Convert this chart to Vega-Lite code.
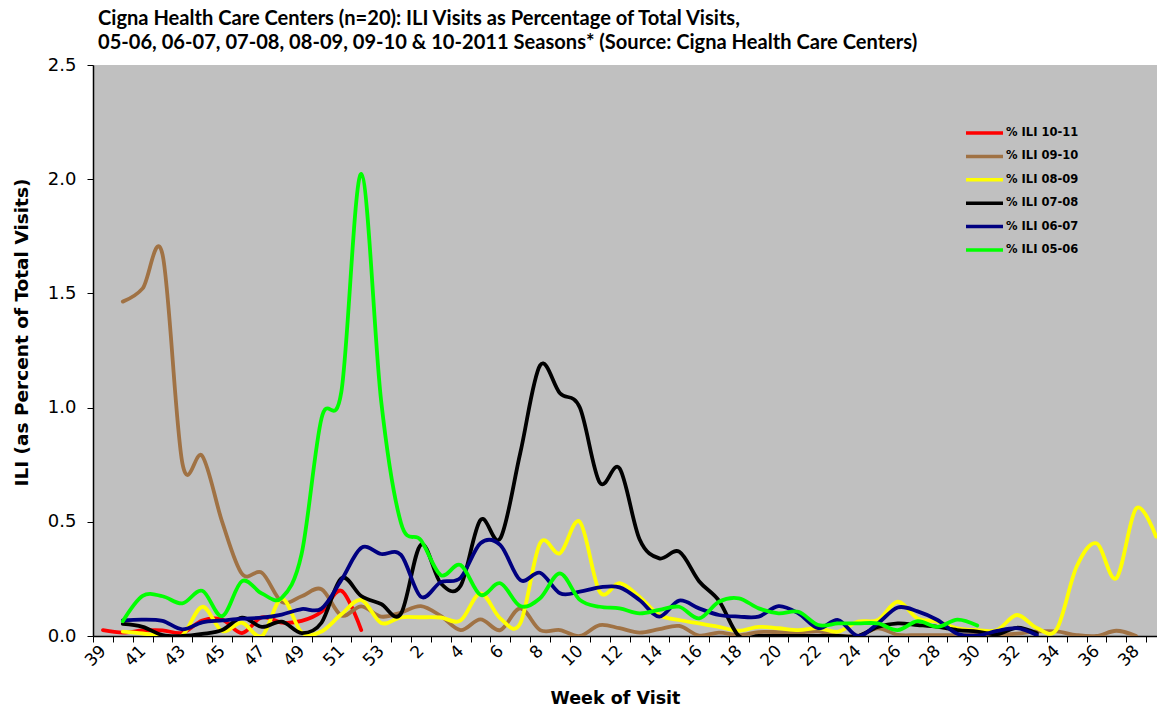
{
  "$schema": "https://vega.github.io/schema/vega-lite/v6.json",
  "autosize": {"type": "none"},
  "padding": {"left": 93, "top": 65, "right": 0, "bottom": 73},
  "width": 1064,
  "height": 571,
  "title": {
    "text": ["Cigna Health Care Centers (n=20): ILI Visits as Percentage of Total Visits,", "05-06, 06-07, 07-08, 08-09, 09-10 & 10-2011 Seasons* (Source: Cigna Health Care Centers)"],
    "font": "Lato",
    "fontSize": 20.1,
    "fontWeight": "bold",
    "color": "#000000",
    "anchor": "start",
    "frame": "group",
    "dx": 5,
    "lineHeight": 24,
    "offset": 3
  },
  "data": {"values": [
    {"week":"39","series":"% ILI 10-11","ili":0.026},{"week":"40","series":"% ILI 10-11","ili":0.015},{"week":"41","series":"% ILI 10-11","ili":0.024},{"week":"42","series":"% ILI 10-11","ili":0.025},{"week":"43","series":"% ILI 10-11","ili":0.014},{"week":"44","series":"% ILI 10-11","ili":0.068},{"week":"45","series":"% ILI 10-11","ili":0.072},{"week":"46","series":"% ILI 10-11","ili":0.013},{"week":"47","series":"% ILI 10-11","ili":0.082},{"week":"48","series":"% ILI 10-11","ili":0.059},{"week":"49","series":"% ILI 10-11","ili":0.066},{"week":"50","series":"% ILI 10-11","ili":0.106},{"week":"51","series":"% ILI 10-11","ili":0.198},{"week":"52","series":"% ILI 10-11","ili":0.026},

    {"week":"40","series":"% ILI 09-10","ili":1.464},{"week":"41","series":"% ILI 09-10","ili":1.522},{"week":"42","series":"% ILI 09-10","ili":1.67},{"week":"43","series":"% ILI 09-10","ili":0.756},{"week":"44","series":"% ILI 09-10","ili":0.788},{"week":"45","series":"% ILI 09-10","ili":0.5},{"week":"46","series":"% ILI 09-10","ili":0.272},{"week":"47","series":"% ILI 09-10","ili":0.277},{"week":"48","series":"% ILI 09-10","ili":0.15},{"week":"49","series":"% ILI 09-10","ili":0.174},{"week":"50","series":"% ILI 09-10","ili":0.205},{"week":"51","series":"% ILI 09-10","ili":0.09},{"week":"52","series":"% ILI 09-10","ili":0.13},{"week":"53","series":"% ILI 09-10","ili":0.085},{"week":"1","series":"% ILI 09-10","ili":0.103},{"week":"2","series":"% ILI 09-10","ili":0.131},{"week":"3","series":"% ILI 09-10","ili":0.088},{"week":"4","series":"% ILI 09-10","ili":0.026},{"week":"5","series":"% ILI 09-10","ili":0.073},{"week":"6","series":"% ILI 09-10","ili":0.026},{"week":"7","series":"% ILI 09-10","ili":0.121},{"week":"8","series":"% ILI 09-10","ili":0.026},{"week":"9","series":"% ILI 09-10","ili":0.026},{"week":"10","series":"% ILI 09-10","ili":0.0},{"week":"11","series":"% ILI 09-10","ili":0.048},{"week":"12","series":"% ILI 09-10","ili":0.034},{"week":"13","series":"% ILI 09-10","ili":0.015},{"week":"14","series":"% ILI 09-10","ili":0.03},{"week":"15","series":"% ILI 09-10","ili":0.044},{"week":"16","series":"% ILI 09-10","ili":0.002},{"week":"17","series":"% ILI 09-10","ili":0.015},{"week":"18","series":"% ILI 09-10","ili":0.004},{"week":"19","series":"% ILI 09-10","ili":0.017},{"week":"20","series":"% ILI 09-10","ili":0.017},{"week":"21","series":"% ILI 09-10","ili":0.015},{"week":"22","series":"% ILI 09-10","ili":0.02},{"week":"23","series":"% ILI 09-10","ili":0.002},{"week":"24","series":"% ILI 09-10","ili":0.0},{"week":"25","series":"% ILI 09-10","ili":0.034},{"week":"26","series":"% ILI 09-10","ili":0.005},{"week":"27","series":"% ILI 09-10","ili":0.004},{"week":"28","series":"% ILI 09-10","ili":0.004},{"week":"29","series":"% ILI 09-10","ili":0.004},{"week":"30","series":"% ILI 09-10","ili":0.005},{"week":"31","series":"% ILI 09-10","ili":0.005},{"week":"32","series":"% ILI 09-10","ili":0.01},{"week":"33","series":"% ILI 09-10","ili":0.02},{"week":"34","series":"% ILI 09-10","ili":0.02},{"week":"35","series":"% ILI 09-10","ili":0.004},{"week":"36","series":"% ILI 09-10","ili":0.0},{"week":"37","series":"% ILI 09-10","ili":0.023},{"week":"38","series":"% ILI 09-10","ili":0.0},

    {"week":"40","series":"% ILI 08-09","ili":0.019},{"week":"41","series":"% ILI 08-09","ili":0.011},{"week":"42","series":"% ILI 08-09","ili":0.0},{"week":"43","series":"% ILI 08-09","ili":0.003},{"week":"44","series":"% ILI 08-09","ili":0.128},{"week":"45","series":"% ILI 08-09","ili":0.022},{"week":"46","series":"% ILI 08-09","ili":0.058},{"week":"47","series":"% ILI 08-09","ili":0.0},{"week":"48","series":"% ILI 08-09","ili":0.164},{"week":"49","series":"% ILI 08-09","ili":0.016},{"week":"50","series":"% ILI 08-09","ili":0.02},{"week":"51","series":"% ILI 08-09","ili":0.095},{"week":"52","series":"% ILI 08-09","ili":0.158},{"week":"53","series":"% ILI 08-09","ili":0.057},{"week":"1","series":"% ILI 08-09","ili":0.082},{"week":"2","series":"% ILI 08-09","ili":0.082},{"week":"3","series":"% ILI 08-09","ili":0.081},{"week":"4","series":"% ILI 08-09","ili":0.068},{"week":"5","series":"% ILI 08-09","ili":0.187},{"week":"6","series":"% ILI 08-09","ili":0.077},{"week":"7","series":"% ILI 08-09","ili":0.055},{"week":"8","series":"% ILI 08-09","ili":0.406},{"week":"9","series":"% ILI 08-09","ili":0.362},{"week":"10","series":"% ILI 08-09","ili":0.5},{"week":"11","series":"% ILI 08-09","ili":0.194},{"week":"12","series":"% ILI 08-09","ili":0.231},{"week":"13","series":"% ILI 08-09","ili":0.172},{"week":"14","series":"% ILI 08-09","ili":0.092},{"week":"15","series":"% ILI 08-09","ili":0.07},{"week":"16","series":"% ILI 08-09","ili":0.055},{"week":"17","series":"% ILI 08-09","ili":0.04},{"week":"18","series":"% ILI 08-09","ili":0.023},{"week":"19","series":"% ILI 08-09","ili":0.04},{"week":"20","series":"% ILI 08-09","ili":0.034},{"week":"21","series":"% ILI 08-09","ili":0.026},{"week":"22","series":"% ILI 08-09","ili":0.034},{"week":"23","series":"% ILI 08-09","ili":0.019},{"week":"24","series":"% ILI 08-09","ili":0.063},{"week":"25","series":"% ILI 08-09","ili":0.07},{"week":"26","series":"% ILI 08-09","ili":0.15},{"week":"27","series":"% ILI 08-09","ili":0.077},{"week":"28","series":"% ILI 08-09","ili":0.063},{"week":"29","series":"% ILI 08-09","ili":0.034},{"week":"30","series":"% ILI 08-09","ili":0.026},{"week":"31","series":"% ILI 08-09","ili":0.026},{"week":"32","series":"% ILI 08-09","ili":0.092},{"week":"33","series":"% ILI 08-09","ili":0.035},{"week":"34","series":"% ILI 08-09","ili":0.03},{"week":"35","series":"% ILI 08-09","ili":0.303},{"week":"36","series":"% ILI 08-09","ili":0.406},{"week":"37","series":"% ILI 08-09","ili":0.253},{"week":"38","series":"% ILI 08-09","ili":0.559},{"week":"39 (next)","series":"% ILI 08-09","ili":0.435},

    {"week":"40","series":"% ILI 07-08","ili":0.053},{"week":"41","series":"% ILI 07-08","ili":0.04},{"week":"42","series":"% ILI 07-08","ili":0.004},{"week":"43","series":"% ILI 07-08","ili":0.0},{"week":"44","series":"% ILI 07-08","ili":0.009},{"week":"45","series":"% ILI 07-08","ili":0.026},{"week":"46","series":"% ILI 07-08","ili":0.08},{"week":"47","series":"% ILI 07-08","ili":0.04},{"week":"48","series":"% ILI 07-08","ili":0.063},{"week":"49","series":"% ILI 07-08","ili":0.013},{"week":"50","series":"% ILI 07-08","ili":0.058},{"week":"51","series":"% ILI 07-08","ili":0.253},{"week":"52","series":"% ILI 07-08","ili":0.175},{"week":"53","series":"% ILI 07-08","ili":0.14},{"week":"1","series":"% ILI 07-08","ili":0.098},{"week":"2","series":"% ILI 07-08","ili":0.4},{"week":"3","series":"% ILI 07-08","ili":0.231},{"week":"4","series":"% ILI 07-08","ili":0.22},{"week":"5","series":"% ILI 07-08","ili":0.508},{"week":"6","series":"% ILI 07-08","ili":0.428},{"week":"7","series":"% ILI 07-08","ili":0.8},{"week":"8","series":"% ILI 07-08","ili":1.185},{"week":"9","series":"% ILI 07-08","ili":1.063},{"week":"10","series":"% ILI 07-08","ili":1.0},{"week":"11","series":"% ILI 07-08","ili":0.672},{"week":"12","series":"% ILI 07-08","ili":0.734},{"week":"13","series":"% ILI 07-08","ili":0.425},{"week":"14","series":"% ILI 07-08","ili":0.34},{"week":"15","series":"% ILI 07-08","ili":0.369},{"week":"16","series":"% ILI 07-08","ili":0.24},{"week":"17","series":"% ILI 07-08","ili":0.155},{"week":"18","series":"% ILI 07-08","ili":0.0},{"week":"19","series":"% ILI 07-08","ili":0.0},{"week":"20","series":"% ILI 07-08","ili":0.0},{"week":"21","series":"% ILI 07-08","ili":0.0},{"week":"22","series":"% ILI 07-08","ili":0.0},{"week":"23","series":"% ILI 07-08","ili":0.0},{"week":"24","series":"% ILI 07-08","ili":0.0},{"week":"25","series":"% ILI 07-08","ili":0.04},{"week":"26","series":"% ILI 07-08","ili":0.055},{"week":"27","series":"% ILI 07-08","ili":0.048},{"week":"28","series":"% ILI 07-08","ili":0.04},{"week":"29","series":"% ILI 07-08","ili":0.026},{"week":"30","series":"% ILI 07-08","ili":0.019},{"week":"31","series":"% ILI 07-08","ili":0.008},{"week":"32","series":"% ILI 07-08","ili":0.036},{"week":"33","series":"% ILI 07-08","ili":0.012},

    {"week":"40","series":"% ILI 06-07","ili":0.068},{"week":"41","series":"% ILI 06-07","ili":0.072},{"week":"42","series":"% ILI 06-07","ili":0.066},{"week":"43","series":"% ILI 06-07","ili":0.029},{"week":"44","series":"% ILI 06-07","ili":0.06},{"week":"45","series":"% ILI 06-07","ili":0.068},{"week":"46","series":"% ILI 06-07","ili":0.076},{"week":"47","series":"% ILI 06-07","ili":0.08},{"week":"48","series":"% ILI 06-07","ili":0.094},{"week":"49","series":"% ILI 06-07","ili":0.118},{"week":"50","series":"% ILI 06-07","ili":0.12},{"week":"51","series":"% ILI 06-07","ili":0.245},{"week":"52","series":"% ILI 06-07","ili":0.386},{"week":"53","series":"% ILI 06-07","ili":0.359},{"week":"1","series":"% ILI 06-07","ili":0.355},{"week":"2","series":"% ILI 06-07","ili":0.172},{"week":"3","series":"% ILI 06-07","ili":0.236},{"week":"4","series":"% ILI 06-07","ili":0.255},{"week":"5","series":"% ILI 06-07","ili":0.406},{"week":"6","series":"% ILI 06-07","ili":0.398},{"week":"7","series":"% ILI 06-07","ili":0.245},{"week":"8","series":"% ILI 06-07","ili":0.277},{"week":"9","series":"% ILI 06-07","ili":0.187},{"week":"10","series":"% ILI 06-07","ili":0.194},{"week":"11","series":"% ILI 06-07","ili":0.213},{"week":"12","series":"% ILI 06-07","ili":0.213},{"week":"13","series":"% ILI 06-07","ili":0.158},{"week":"14","series":"% ILI 06-07","ili":0.085},{"week":"15","series":"% ILI 06-07","ili":0.155},{"week":"16","series":"% ILI 06-07","ili":0.121},{"week":"17","series":"% ILI 06-07","ili":0.092},{"week":"18","series":"% ILI 06-07","ili":0.085},{"week":"19","series":"% ILI 06-07","ili":0.085},{"week":"20","series":"% ILI 06-07","ili":0.131},{"week":"21","series":"% ILI 06-07","ili":0.099},{"week":"22","series":"% ILI 06-07","ili":0.034},{"week":"23","series":"% ILI 06-07","ili":0.07},{"week":"24","series":"% ILI 06-07","ili":0.0},{"week":"25","series":"% ILI 06-07","ili":0.055},{"week":"26","series":"% ILI 06-07","ili":0.125},{"week":"27","series":"% ILI 06-07","ili":0.108},{"week":"28","series":"% ILI 06-07","ili":0.07},{"week":"29","series":"% ILI 06-07","ili":0.01},{"week":"30","series":"% ILI 06-07","ili":0.002},{"week":"31","series":"% ILI 06-07","ili":0.022},{"week":"32","series":"% ILI 06-07","ili":0.034},{"week":"33","series":"% ILI 06-07","ili":0.004},

    {"week":"40","series":"% ILI 05-06","ili":0.065},{"week":"41","series":"% ILI 05-06","ili":0.176},{"week":"42","series":"% ILI 05-06","ili":0.174},{"week":"43","series":"% ILI 05-06","ili":0.143},{"week":"44","series":"% ILI 05-06","ili":0.198},{"week":"45","series":"% ILI 05-06","ili":0.087},{"week":"46","series":"% ILI 05-06","ili":0.24},{"week":"47","series":"% ILI 05-06","ili":0.186},{"week":"48","series":"% ILI 05-06","ili":0.167},{"week":"49","series":"% ILI 05-06","ili":0.36},{"week":"50","series":"% ILI 05-06","ili":0.953},{"week":"51","series":"% ILI 05-06","ili":1.07},{"week":"52","series":"% ILI 05-06","ili":2.023},{"week":"53","series":"% ILI 05-06","ili":1.03},{"week":"1","series":"% ILI 05-06","ili":0.495},{"week":"2","series":"% ILI 05-06","ili":0.42},{"week":"3","series":"% ILI 05-06","ili":0.267},{"week":"4","series":"% ILI 05-06","ili":0.311},{"week":"5","series":"% ILI 05-06","ili":0.18},{"week":"6","series":"% ILI 05-06","ili":0.231},{"week":"7","series":"% ILI 05-06","ili":0.131},{"week":"8","series":"% ILI 05-06","ili":0.165},{"week":"9","series":"% ILI 05-06","ili":0.274},{"week":"10","series":"% ILI 05-06","ili":0.158},{"week":"11","series":"% ILI 05-06","ili":0.128},{"week":"12","series":"% ILI 05-06","ili":0.121},{"week":"13","series":"% ILI 05-06","ili":0.099},{"week":"14","series":"% ILI 05-06","ili":0.114},{"week":"15","series":"% ILI 05-06","ili":0.128},{"week":"16","series":"% ILI 05-06","ili":0.077},{"week":"17","series":"% ILI 05-06","ili":0.15},{"week":"18","series":"% ILI 05-06","ili":0.165},{"week":"19","series":"% ILI 05-06","ili":0.121},{"week":"20","series":"% ILI 05-06","ili":0.099},{"week":"21","series":"% ILI 05-06","ili":0.106},{"week":"22","series":"% ILI 05-06","ili":0.048},{"week":"23","series":"% ILI 05-06","ili":0.055},{"week":"24","series":"% ILI 05-06","ili":0.055},{"week":"25","series":"% ILI 05-06","ili":0.055},{"week":"26","series":"% ILI 05-06","ili":0.026},{"week":"27","series":"% ILI 05-06","ili":0.065},{"week":"28","series":"% ILI 05-06","ili":0.04},{"week":"29","series":"% ILI 05-06","ili":0.072},{"week":"30","series":"% ILI 05-06","ili":0.046}
  ]},
  "mark": {"type": "line", "interpolate": "cardinal", "strokeWidth": 3.8, "strokeCap": "round", "strokeJoin": "round", "clip": true},
  "encoding": {
    "x": {
      "field": "week",
      "type": "ordinal",
      "scale": {"type": "band", "paddingInner": 0, "paddingOuter": 0, "range": [0, 1073], "domain": ["39","40","41","42","43","44","45","46","47","48","49","50","51","52","53","1","2","3","4","5","6","7","8","9","10","11","12","13","14","15","16","17","18","19","20","21","22","23","24","25","26","27","28","29","30","31","32","33","34","35","36","37","38","39 (next)"]},
      "axis": {
        "title": "Week of Visit",
        "titleFont": "DejaVu Sans",
        "titleFontSize": 17.5,
        "titleFontWeight": "bold",
        "titleColor": "#000000",
        "titlePadding": 21,
        "titleX": 522,
        "tickBand": "extent",
        "labelAngle": -45,
        "labelAlign": "right",
        "labelBaseline": "middle",
        "labelFont": "DejaVu Sans",
        "labelFontSize": 17,
        "labelColor": "#000000",
        "labelPadding": 6,
        "labelOverlap": false,
        "labelExpr": "toNumber(datum.value) >= 39 ? (toNumber(datum.value) % 2 == 1 ? datum.value : '') : (toNumber(datum.value) % 2 == 0 ? datum.value : '')",
        "tickSize": 6,
        "tickColor": "#000000",
        "domainColor": "#000000",
        "domainWidth": 1.5,
        "grid": false
      }
    },
    "y": {
      "field": "ili",
      "type": "quantitative",
      "scale": {"domain": [0, 2.5], "nice": false, "zero": true},
      "axis": {
        "title": "ILI (as Percent of Total Visits)",
        "titleFont": "DejaVu Sans",
        "titleFontSize": 18.5,
        "titleFontWeight": "bold",
        "titleColor": "#000000",
        "titlePadding": 16,
        "titleY": 267,
        "values": [0, 0.5, 1, 1.5, 2, 2.5],
        "format": ".1f",
        "labelFont": "DejaVu Sans",
        "labelFontSize": 18,
        "labelColor": "#000000",
        "labelPadding": 11,
        "tickSize": 6,
        "tickColor": "#000000",
        "domainColor": "#000000",
        "domainWidth": 1.5,
        "grid": false
      }
    },
    "color": {
      "field": "series",
      "type": "nominal",
      "scale": {
        "domain": ["% ILI 10-11", "% ILI 09-10", "% ILI 08-09", "% ILI 07-08", "% ILI 06-07", "% ILI 05-06"],
        "range": ["#FF0000", "#A07244", "#FFFF00", "#000000", "#000080", "#00FF00"]
      },
      "legend": {
        "title": null,
        "orient": "none",
        "legendX": 871,
        "legendY": 59,
        "symbolType": "stroke",
        "symbolSize": 1369,
        "symbolStrokeWidth": 3.5,
        "clipHeight": 18,
        "labelFont": "DejaVu Sans",
        "labelFontSize": 11.5,
        "labelFontWeight": "bold",
        "labelColor": "#000000",
        "labelOffset": 1,
        "rowPadding": 5.4
      }
    }
  },
  "config": {
    "view": {"fill": "#C0C0C0", "stroke": null},
    "background": "#FFFFFF"
  }
}
